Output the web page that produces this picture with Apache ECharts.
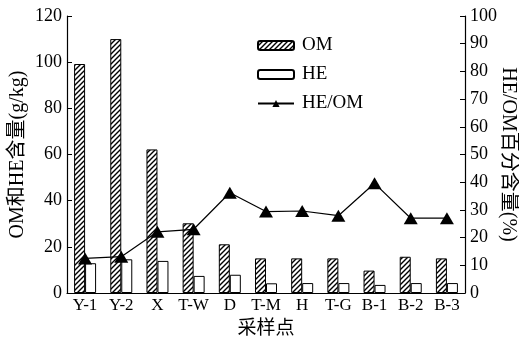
<!DOCTYPE html>
<html>
<head>
<meta charset="utf-8">
<script src="https://cdn.jsdelivr.net/npm/echarts@6/dist/echarts.min.js"></script>
<style>
  html, body { margin: 0; padding: 0; background: #fff; }
  #chart { width: 519px; height: 339px; }
</style>
</head>
<body>
<div id="chart"></div>
<script>
const sites = ['Y-1', 'Y-2', 'X', 'T-W', 'D', 'T-M', 'H', 'T-G', 'B-1', 'B-2', 'B-3']
const omValues = [99.2, 110, 62.2, 30.2, 21.1, 15, 15, 15, 9.7, 15.7, 15]
const heValues = [12.9, 14.6, 13.9, 7.4, 7.9, 4.2, 4.3, 4.3, 3.5, 4.3, 4.3]
const ratioValues = [12.5, 13.1, 22.1, 23, 36.2, 29.4, 29.6, 27.9, 39.6, 27, 27]

const serif = "'Liberation Serif', 'Times New Roman', 'Noto Sans CJK SC', serif"

// 斜线填充
function hatch() {
  const c = document.createElement('canvas')
  c.width = 5
  c.height = 5
  const ctx = c.getContext('2d')
  ctx.fillStyle = '#fff'
  ctx.fillRect(0, 0, 5, 5)
  ctx.strokeStyle = '#000'
  ctx.lineWidth = 1.4
  ctx.beginPath()
  ctx.moveTo(-1, 6); ctx.lineTo(6, -1)
  ctx.moveTo(-1, 1); ctx.lineTo(1, -1)
  ctx.moveTo(4, 6); ctx.lineTo(6, 4)
  ctx.stroke()
  return c
}

const myChart = echarts.init(document.getElementById('chart'))
myChart.setOption({
  animation: false,
  textStyle: { fontFamily: serif, color: '#000' },
  grid: { left: 67, right: 54, top: 16, bottom: 46, outerBoundsMode: 'none', containLabel: false },
  legend: {
    orient: 'vertical',
    left: 252,
    top: 31,
    itemWidth: 36,
    itemHeight: 9,
    itemGap: 10,
    textStyle: { fontFamily: serif, fontSize: 19, color: '#000', padding: [0, 0, 0, 3] },
    data: ['OM', 'HE', 'HE/OM']
  },
  xAxis: {
    type: 'category',
    data: sites,
    name: '采样点',
    nameLocation: 'middle',
    nameGap: 27,
    nameMoveOverlap: false,
    nameTextStyle: { fontFamily: serif, fontSize: 19, color: '#000' },
    axisLine: { lineStyle: { color: '#000', width: 1.2 } },
    axisTick: { inside: true, length: 8, lineStyle: { color: '#000' } },
    axisLabel: { fontFamily: serif, fontSize: 17, color: '#000', margin: 4, interval: 0 }
  },
  yAxis: [
    {
      type: 'value',
      min: 0,
      max: 120,
      interval: 20,
      name: 'OM和HE含量(g/kg)',
      nameLocation: 'middle',
      nameGap: 39,
      nameMoveOverlap: false,
      nameTextStyle: { fontFamily: serif, fontSize: 20, color: '#000' },
      axisLine: { show: true, lineStyle: { color: '#000', width: 1.2 } },
      axisTick: { show: true, inside: true, length: 5, lineStyle: { color: '#000' } },
      axisLabel: { fontFamily: serif, fontSize: 18, color: '#000', margin: 5 },
      splitLine: { show: false }
    },
    {
      type: 'value',
      min: 0,
      max: 100,
      interval: 10,
      name: 'HE/OM百分含量(%)',
      nameLocation: 'middle',
      nameRotate: -90,
      nameGap: 33,
      nameMoveOverlap: false,
      nameTextStyle: { fontFamily: serif, fontSize: 20, color: '#000' },
      axisLine: { show: true, lineStyle: { color: '#000', width: 1.2 } },
      axisTick: { show: true, inside: true, length: 5, lineStyle: { color: '#000' } },
      axisLabel: { fontFamily: serif, fontSize: 18, color: '#000', margin: 5 },
      splitLine: { show: false }
    }
  ],
  series: [
    {
      name: 'OM',
      type: 'bar',
      barWidth: 11,
      barGap: '0%',
      itemStyle: {
        color: { image: hatch(), repeat: 'repeat' },
        borderColor: '#000',
        borderWidth: 1
      },
      data: omValues
    },
    {
      name: 'HE',
      type: 'bar',
      barWidth: 11,
      barGap: '0%',
      itemStyle: { color: '#fff', borderColor: '#000', borderWidth: 1 },
      data: heValues
    },
    {
      name: 'HE/OM',
      type: 'line',
      yAxisIndex: 1,
      symbol: 'triangle',
      symbolSize: [14, 12],
      itemStyle: { color: '#000' },
      lineStyle: { color: '#000', width: 1.2 },
      data: ratioValues
    }
  ]
})
</script>
</body>
</html>
